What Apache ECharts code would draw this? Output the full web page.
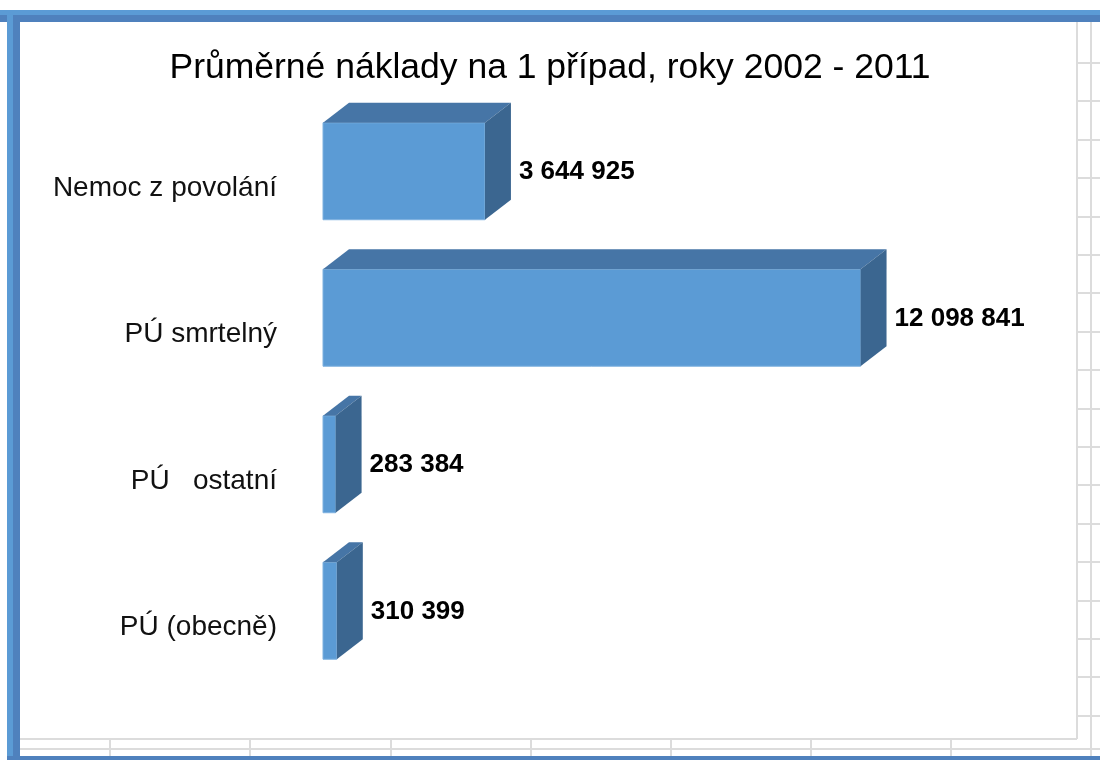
<!DOCTYPE html>
<html>
<head>
<meta charset="utf-8">
<script src="https://cdn.jsdelivr.net/npm/echarts@6/dist/echarts.min.js"></script>
<style>
  html, body { margin: 0; padding: 0; background: #fff; }
  #chart { width: 1100px; height: 760px; }
</style>
</head>
<body>
<div id="chart"></div>
<script>
// data
const titleText = 'Průměrné náklady na 1 případ, roky 2002 - 2011';
const categories = ['Nemoc z povolání', 'PÚ smrtelný', 'PÚ   ostatní', 'PÚ (obecně)'];
const values = [3644925, 12098841, 283384, 310399];

const container = document.getElementById('chart');
const myChart = echarts.init(container);

const FONT = '"Liberation Sans", Arial, sans-serif';
const DX = 26, DY = -20; // 3D depth of the bars

// 12098841 -> "12 098 841"
function fmt(v) {
    return String(v).replace(/\B(?=(\d{3})+(?!\d))/g, ' ');
}

function renderBar(params, api) {
    const cat = api.value(0);
    const val = api.value(1);
    const p0 = api.coord([0, cat]);
    const p1 = api.coord([val, cat]);
    const h = api.size([0, 1])[1] * 0.662;
    const x0 = p0[0], x1 = p1[0];
    const y0 = p0[1] - h / 2, y1 = p0[1] + h / 2;
    return {
        type: 'group',
        children: [
            {   // front
                type: 'rect',
                shape: { x: x0, y: y0, width: x1 - x0, height: h },
                style: { fill: '#5B9BD5', stroke: '#7FB2E0', lineWidth: 1 }
            },
            {   // top
                type: 'polygon',
                shape: { points: [[x0, y0], [x1, y0], [x1 + DX, y0 + DY], [x0 + DX, y0 + DY]] },
                style: { fill: '#4675A6' }
            },
            {   // right side
                type: 'polygon',
                shape: { points: [[x1, y0], [x1 + DX, y0 + DY], [x1 + DX, y1 + DY], [x1, y1]] },
                style: { fill: '#3B6690' }
            },
            {   // value label
                type: 'text',
                x: x1 + DX + 8,
                y: p0[1] + 1,
                style: {
                    text: fmt(val),
                    fill: '#000',
                    font: 'bold 26px ' + FONT,
                    textAlign: 'left',
                    textVerticalAlign: 'middle'
                }
            }
        ]
    };
}

// spreadsheet frame around the chart
const frame = [];
const gridCol = '#DCDCDC';
frame.push({ type: 'rect', shape: { x: 0, y: 10, width: 1100, height: 5 }, style: { fill: '#5B9BD5' } });
frame.push({ type: 'rect', shape: { x: 0, y: 15, width: 1100, height: 7 }, style: { fill: '#4F81BD' } });
frame.push({ type: 'rect', shape: { x: 7, y: 10, width: 6, height: 750 }, style: { fill: '#5B9BD5' } });
frame.push({ type: 'rect', shape: { x: 13, y: 15, width: 7, height: 745 }, style: { fill: '#4F81BD' } });
frame.push({ type: 'rect', shape: { x: 7, y: 756, width: 1093, height: 4 }, style: { fill: '#4F81BD' } });
// chart area border
frame.push({ type: 'line', shape: { x1: 1077, y1: 22, x2: 1077, y2: 739 }, style: { stroke: gridCol, lineWidth: 2 } });
frame.push({ type: 'line', shape: { x1: 20, y1: 739, x2: 1077, y2: 739 }, style: { stroke: gridCol, lineWidth: 2 } });
// cells right of the chart
frame.push({ type: 'line', shape: { x1: 1091, y1: 22, x2: 1091, y2: 756 }, style: { stroke: gridCol, lineWidth: 2 } });
for (let y = 63; y < 740; y += 38.4) {
    frame.push({ type: 'line', shape: { x1: 1077, y1: Math.round(y), x2: 1100, y2: Math.round(y) }, style: { stroke: gridCol, lineWidth: 2 } });
}
// cells below the chart
frame.push({ type: 'line', shape: { x1: 20, y1: 749, x2: 1100, y2: 749 }, style: { stroke: gridCol, lineWidth: 2 } });
[110, 250, 391, 531, 671, 811, 951].forEach(function (x) {
    frame.push({ type: 'line', shape: { x1: x, y1: 739, x2: x, y2: 756 }, style: { stroke: gridCol, lineWidth: 2 } });
});

myChart.setOption({
    backgroundColor: '#fff',
    animation: false,
    title: {
        text: titleText,
        left: 'center',
        top: 45,
        textStyle: { fontFamily: FONT, fontSize: 35.5, fontWeight: 'normal', color: '#000' }
    },
    grid: { left: 323, right: 155, top: 98, bottom: 76 },
    xAxis: {
        type: 'value',
        min: 0,
        max: 14000000,
        show: false
    },
    yAxis: {
        type: 'category',
        data: categories,
        inverse: true,
        axisLine: { show: false },
        axisTick: { show: false },
        splitLine: { show: false },
        axisLabel: {
            margin: 46,
            color: '#111',
            fontFamily: FONT,
            fontSize: 28,
            verticalAlign: 'top',
            lineHeight: 34
        }
    },
    series: [{
        type: 'custom',
        renderItem: renderBar,
        encode: { x: 1, y: 0 },
        data: values.map(function (v, i) { return [i, v]; })
    }],
    graphic: frame
});

let resizeObserver = new ResizeObserver(() => myChart?.resize());
resizeObserver.observe(container);
</script>
</body>
</html>
